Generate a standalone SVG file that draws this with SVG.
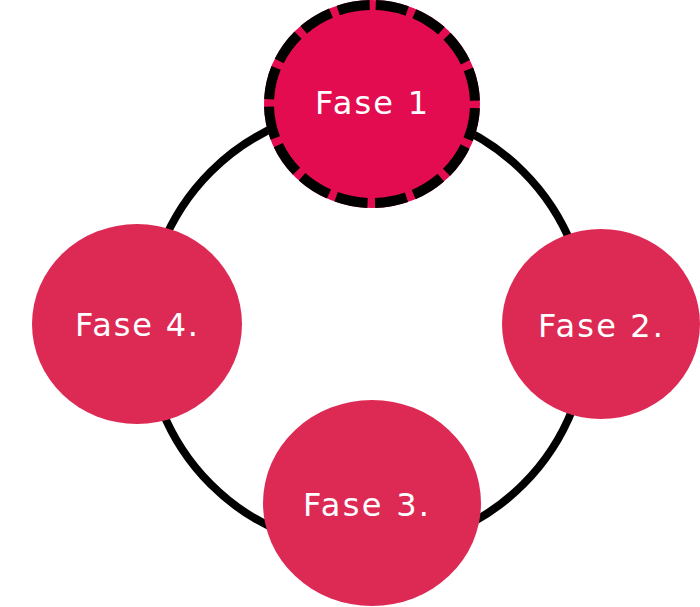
<svg xmlns="http://www.w3.org/2000/svg" width="700" height="607" viewBox="0 0 700 607">
<style>
.lbl{font-family:"DejaVu Sans","Noto Sans",sans-serif;font-size:32px;fill:#ffffff;text-anchor:middle}
.node{fill:#DD2A55}
.ring{fill:none;stroke:#000000;stroke-width:8}
</style>
<rect width="700" height="607" fill="#ffffff"/>
<g id="connectors">
<circle class="ring" cx="367" cy="328" r="221"/>
</g>
<g id="fase1">
<ellipse cx="372" cy="104" rx="108" ry="104" fill="#E40C50"/>
<path d="M372,5 A103,99 0 1 1 372,203 A103,99 0 1 1 372,5" fill="none" stroke="#000000" stroke-width="10" stroke-dasharray="0 3.85 32 3.85"/>
<text class="lbl" x="371.5" y="114" textLength="113" lengthAdjust="spacing">Fase 1</text>
</g>
<g id="fase2">
<ellipse class="node" cx="601" cy="324" rx="99" ry="95"/>
<text class="lbl" x="600.5" y="337" textLength="125" lengthAdjust="spacing">Fase 2.</text>
</g>
<g id="fase3">
<ellipse class="node" cx="372" cy="503" rx="109" ry="103"/>
<text class="lbl" x="366" y="516" textLength="126" lengthAdjust="spacing">Fase 3.</text>
</g>
<g id="fase4">
<ellipse class="node" cx="137" cy="324" rx="105" ry="100"/>
<text class="lbl" x="136.5" y="336" textLength="123" lengthAdjust="spacing">Fase 4.</text>
</g>
</svg>
